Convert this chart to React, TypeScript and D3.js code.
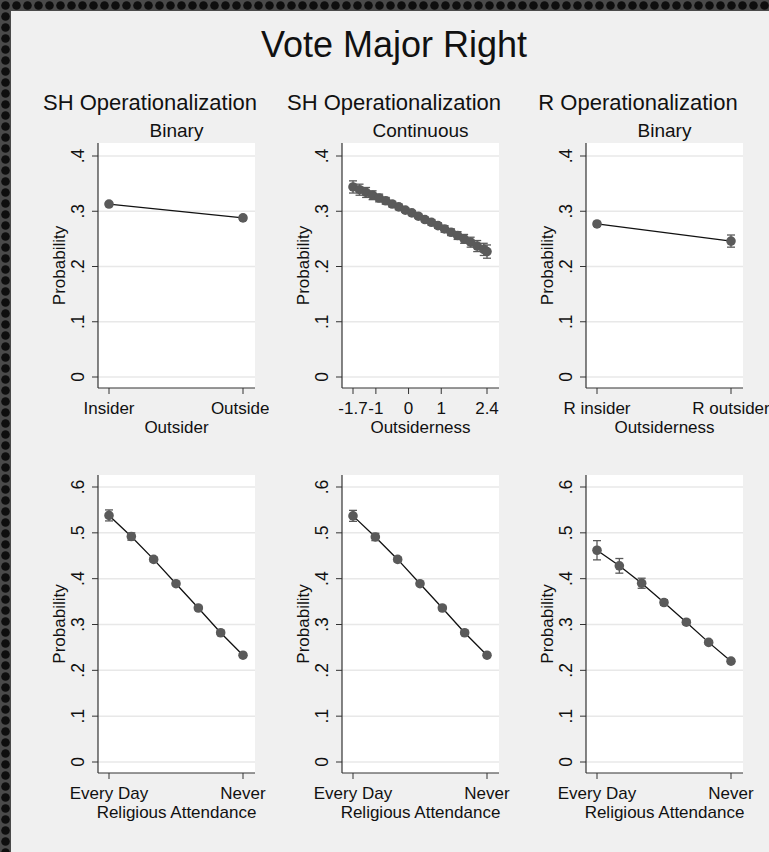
import React from "react";
import * as d3 from "d3";

// ---- data ----
const shBinaryLabels = ["Insider", "Outsider"];
const shBinaryProb = [0.313, 0.288];
const shBinaryErr = [0.003, 0.004];

const shContX = [-1.7, -1.5, -1.3, -1.1, -0.9, -0.7, -0.5, -0.3, -0.1, 0.1, 0.3,
  0.5, 0.7, 0.9, 1.1, 1.3, 1.5, 1.7, 1.9, 2.1, 2.3, 2.4];
const shContProb = [0.344, 0.339, 0.334, 0.329, 0.324, 0.319, 0.313, 0.308, 0.302, 0.297, 0.291,
  0.285, 0.28, 0.274, 0.268, 0.262, 0.256, 0.25, 0.244, 0.237, 0.231, 0.227];
const shContErr = [0.011, 0.01, 0.009, 0.008, 0.007, 0.006, 0.005, 0.005, 0.004, 0.004, 0.004,
  0.004, 0.005, 0.005, 0.006, 0.006, 0.007, 0.008, 0.009, 0.01, 0.011, 0.012];
const shContTicks = [-1.7, -1, 0, 1, 2.4];

const rBinaryLabels = ["R insider", "R outsider"];
const rBinaryProb = [0.277, 0.246];
const rBinaryErr = [0.004, 0.011];

const attendLabels = ["Every Day", "Never"];
const attendLevels = [1, 2, 3, 4, 5, 6, 7];
const attendProbShBin = [0.538, 0.492, 0.442, 0.389, 0.336, 0.282, 0.233];
const attendErrShBin = [0.012, 0.008, 0.005, 0.004, 0.004, 0.004, 0.004];
const attendProbShCont = [0.537, 0.491, 0.442, 0.389, 0.336, 0.282, 0.233];
const attendErrShCont = [0.012, 0.008, 0.005, 0.004, 0.004, 0.004, 0.004];
const attendProbRBin = [0.462, 0.428, 0.39, 0.348, 0.305, 0.261, 0.22];
const attendErrRBin = [0.021, 0.016, 0.011, 0.006, 0.005, 0.004, 0.004];

const yTicksTop = [0, 0.1, 0.2, 0.3, 0.4];
const yTicksBottom = [0, 0.1, 0.2, 0.3, 0.4, 0.5, 0.6];

const FONT = "'Liberation Sans', Arial, Helvetica, sans-serif";
const fmtY = (v: number) => (v === 0 ? "0" : d3.format(".1f")(v).replace(/^0/, ""));

type PanelProps = {
  col: number;
  row: number;
  xs: number[];
  ys: number[];
  errs: number[];
  xTickVals: number[];
  xTickText: string[];
  xTitle: string;
  title?: string;
  subtitle?: string;
};

function Panel({ col, row, xs, ys, errs, xTickVals, xTickText, xTitle, title, subtitle }: PanelProps) {
  const axisX = 98 + col * 244;
  const plotW = 157;
  const top = row === 0 ? 143 : 475;
  const bottom = row === 0 ? 388 : 773;
  const yTicks = row === 0 ? yTicksTop : yTicksBottom;
  const y = d3.scaleLinear()
    .domain([0, yTicks[yTicks.length - 1]])
    .range(row === 0 ? [377, 156] : [762, 487]);
  const x = d3.scaleLinear()
    .domain([xTickVals[0], xTickVals[xTickVals.length - 1]])
    .range([axisX + 11, axisX + 145]);

  const line = d3.line<number>()
    .x((_, i) => x(xs[i]))
    .y((d) => y(d));

  return (
    <g clipPath={`url(#clip${col})`} fontFamily={FONT}>
      {title && (
        <text x={axisX + 52} y={110} fontSize={22} textAnchor="middle" fill="#111">{title}</text>
      )}
      {subtitle && (
        <text x={axisX + plotW / 2} y={137} fontSize={19} textAnchor="middle" fill="#111">{subtitle}</text>
      )}
      <rect x={axisX} y={top} width={plotW} height={bottom - top} fill="#fff" />
      {yTicks.map((t) => (
        <g key={t}>
          <line x1={axisX} x2={axisX + plotW} y1={y(t)} y2={y(t)} stroke="#e8e8e8" strokeWidth={1.5} />
          <line x1={axisX - 6} x2={axisX} y1={y(t)} y2={y(t)} stroke="#333" strokeWidth={1} />
          <text transform={`translate(${axisX - 14.5},${y(t)}) rotate(-90)`} fontSize={17.5}
            textAnchor="middle" fill="#111">{fmtY(t)}</text>
        </g>
      ))}
      <line x1={axisX} x2={axisX} y1={top} y2={bottom} stroke="#333" strokeWidth={1.2} />
      <line x1={axisX} x2={axisX + plotW} y1={bottom} y2={bottom} stroke="#333" strokeWidth={1.2} />
      {xTickVals.map((t, i) => (
        <g key={t}>
          <line x1={x(t)} x2={x(t)} y1={bottom} y2={bottom + 6} stroke="#333" strokeWidth={1} />
          <text x={x(t)} y={bottom + 25.5} fontSize={17} textAnchor="middle" fill="#111">{xTickText[i]}</text>
        </g>
      ))}
      <text x={axisX + plotW / 2} y={bottom + 44.5} fontSize={17} textAnchor="middle" fill="#111">{xTitle}</text>
      <text transform={`translate(${axisX - 33.5},${(top + bottom) / 2}) rotate(-90)`} fontSize={17}
        textAnchor="middle" fill="#111">Probability</text>

      <path d={line(ys) || ""} fill="none" stroke="#111" strokeWidth={1.3} />
      {ys.map((v, i) => (
        <g key={i} stroke="#5a5a5a" strokeWidth={1.3}>
          <line x1={x(xs[i])} x2={x(xs[i])} y1={y(v - errs[i])} y2={y(v + errs[i])} />
          <line x1={x(xs[i]) - 4} x2={x(xs[i]) + 4} y1={y(v - errs[i])} y2={y(v - errs[i])} />
          <line x1={x(xs[i]) - 4} x2={x(xs[i]) + 4} y1={y(v + errs[i])} y2={y(v + errs[i])} />
        </g>
      ))}
      {ys.map((v, i) => (
        <circle key={i} cx={x(xs[i])} cy={y(v)} r={4.8} fill="#5a5a5a" />
      ))}
    </g>
  );
}

export default function App() {
  const W = 769;
  const H = 852;
  return (
    <svg width={W} height={H} style={{ position: "absolute", left: 0, top: 0 }}>
      <defs>
        <pattern id="holes" width={11} height={11} patternUnits="userSpaceOnUse">
          <rect width={11} height={11} fill="#4a4a4a" />
          <circle cx={5.5} cy={5.5} r={4.3} fill="#0e0e0e" />
        </pattern>
        <clipPath id="clip0"><rect x={0} y={0} width={269} height={H} /></clipPath>
        <clipPath id="clip1"><rect x={269} y={0} width={244} height={H} /></clipPath>
        <clipPath id="clip2"><rect x={513} y={0} width={256} height={H} /></clipPath>
      </defs>
      <rect width={W} height={H} fill="url(#holes)" />
      <rect x={11} y={11} width={W - 11} height={H - 11} fill="#f0f0f0" />
      <text x={394} y={57} fontSize={36} textAnchor="middle" fontFamily={FONT} fill="#111">Vote Major Right</text>

      <Panel col={0} row={0} xs={[0, 1]} ys={shBinaryProb} errs={shBinaryErr}
        xTickVals={[0, 1]} xTickText={shBinaryLabels} xTitle="Outsider"
        title="SH Operationalization" subtitle="Binary" />
      <Panel col={1} row={0} xs={shContX} ys={shContProb} errs={shContErr}
        xTickVals={shContTicks} xTickText={shContTicks.map(String)} xTitle="Outsiderness"
        title="SH Operationalization" subtitle="Continuous" />
      <Panel col={2} row={0} xs={[0, 1]} ys={rBinaryProb} errs={rBinaryErr}
        xTickVals={[0, 1]} xTickText={rBinaryLabels} xTitle="Outsiderness"
        title="R Operationalization" subtitle="Binary" />

      <Panel col={0} row={1} xs={attendLevels} ys={attendProbShBin} errs={attendErrShBin}
        xTickVals={[1, 7]} xTickText={attendLabels} xTitle="Religious Attendance" />
      <Panel col={1} row={1} xs={attendLevels} ys={attendProbShCont} errs={attendErrShCont}
        xTickVals={[1, 7]} xTickText={attendLabels} xTitle="Religious Attendance" />
      <Panel col={2} row={1} xs={attendLevels} ys={attendProbRBin} errs={attendErrRBin}
        xTickVals={[1, 7]} xTickText={attendLabels} xTitle="Religious Attendance" />
    </svg>
  );
}
